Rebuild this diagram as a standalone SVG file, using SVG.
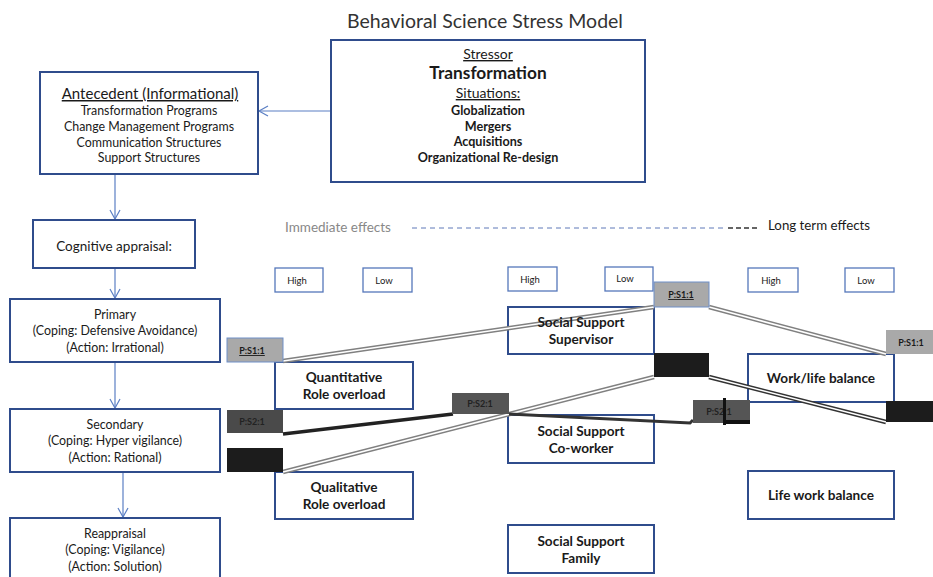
<svg xmlns="http://www.w3.org/2000/svg" width="933" height="577" viewBox="0 0 933 577">
<defs>
<marker id="arr" markerWidth="12" markerHeight="12" refX="10" refY="6" orient="auto" markerUnits="userSpaceOnUse">
<path d="M1,1 L10,6 L1,11" fill="none" stroke="#5b7fc4" stroke-width="1.2"/>
</marker>
<style>
text{font-family:Lato,"Open Sans","Liberation Sans",sans-serif;fill:#1a1a1a;text-anchor:middle}
.box{fill:#fff;stroke:#2f4c8c;stroke-width:2}
.sm{fill:#fff;stroke:#5577bb;stroke-width:1.3}
.t11{font-size:12.4px}
.t12{font-size:13.5px}
.nb{font-size:13.6px;font-weight:bold}
.b{font-weight:bold}
.u{text-decoration:underline}
.arrow{stroke:#5b7fc4;stroke-width:1.2;fill:none}
.dl1{stroke:#808080;stroke-width:4.5;fill:none}
.dl2{stroke:#fff;stroke-width:1.6;fill:none}
.dk1{stroke:#333;stroke-width:4.5;fill:none}
.ps{font-size:9px;font-weight:bold}
.hl{font-size:9.5px}
</style>
</defs>
<rect width="933" height="577" fill="#fff"/>
<text x="485" y="28" font-size="19.5" style="fill:#333">Behavioral Science Stress Model</text>

<g id="connectors">
<line class="arrow" x1="331" y1="111" x2="259" y2="111" marker-end="url(#arr)"/>
<line class="arrow" x1="115" y1="174" x2="115" y2="219" marker-end="url(#arr)"/>
<line class="arrow" x1="115" y1="269" x2="115" y2="298" marker-end="url(#arr)"/>
<line class="arrow" x1="115" y1="362" x2="115" y2="408" marker-end="url(#arr)"/>
<line class="arrow" x1="123" y1="472" x2="123" y2="517" marker-end="url(#arr)"/>
<line x1="412" y1="228" x2="725" y2="228" stroke="#5f78b8" stroke-width="1" stroke-dasharray="5,4"/>
<line x1="728" y1="228" x2="758" y2="228" stroke="#333" stroke-width="1.6" stroke-dasharray="5,3"/>
</g>

<g id="stressor">
<rect class="box" x="331" y="40" width="314" height="142"/>
<text x="488" y="59" font-size="14" class="u">Stressor</text>
<text x="488" y="79" font-size="17.3" class="b">Transformation</text>
<text x="488" y="98" font-size="14" class="u">Situations:</text>
<text x="488" y="115" font-size="12.6" class="b">Globalization</text>
<text x="488" y="131" font-size="12.6" class="b">Mergers</text>
<text x="488" y="146" font-size="12.6" class="b">Acquisitions</text>
<text x="488" y="162" font-size="12.6" class="b">Organizational Re-design</text>
</g>

<g id="antecedent">
<rect class="box" x="40" y="72" width="218" height="102"/>
<text x="150" y="99" font-size="15" class="u">Antecedent (Informational)</text>
<text x="149" y="115" class="t11">Transformation Programs</text>
<text x="149" y="131" class="t11">Change Management Programs</text>
<text x="149" y="147" class="t11">Communication Structures</text>
<text x="149" y="162" class="t11">Support Structures</text>
</g>

<g id="cognitive">
<rect class="box" x="33" y="220" width="162" height="48"/>
<text x="114" y="251" class="t12">Cognitive appraisal:</text>
</g>

<g id="primary">
<rect class="box" x="10" y="299" width="210" height="63"/>
<text x="115" y="319" class="t11">Primary</text>
<text x="115" y="335" class="t11">(Coping: Defensive Avoidance)</text>
<text x="115" y="352" class="t11">(Action: Irrational)</text>
</g>

<g id="secondary">
<rect class="box" x="10" y="409" width="210" height="63"/>
<text x="115" y="429" class="t11">Secondary</text>
<text x="115" y="445" class="t11">(Coping: Hyper vigilance)</text>
<text x="115" y="462" class="t11">(Action: Rational)</text>
</g>

<g id="reappraisal">
<rect class="box" x="10" y="518" width="210" height="70"/>
<text x="115" y="538" class="t11">Reappraisal</text>
<text x="115" y="554" class="t11">(Coping: Vigilance)</text>
<text x="115" y="571" class="t11">(Action: Solution)</text>
</g>

<g id="legend">
<text x="285" y="232" font-size="13.5" style="text-anchor:start;fill:#888">Immediate effects</text>
<text x="768" y="230" font-size="13.3" style="text-anchor:start">Long term effects</text>
</g>

<g id="high1"><rect class="sm" x="275" y="268" width="48" height="24"/><text x="297" y="284" class="hl">High</text></g>
<g id="low1"><rect class="sm" x="363" y="268" width="49" height="24"/><text x="384" y="284" class="hl">Low</text></g>
<g id="high2"><rect class="sm" x="508" y="267" width="49" height="24"/><text x="530" y="283" class="hl">High</text></g>
<g id="low2"><rect class="sm" x="605" y="267" width="48" height="24"/><text x="625" y="282" class="hl">Low</text></g>
<g id="high3"><rect class="sm" x="748" y="268" width="50" height="24"/><text x="771" y="284" class="hl">High</text></g>
<g id="low3"><rect class="sm" x="845" y="268" width="49" height="24"/><text x="866" y="284" class="hl">Low</text></g>

<g id="quantitative">
<rect class="box" x="275" y="362" width="138" height="47"/>
<text x="344" y="382" class="nb">Quantitative</text>
<text x="344" y="399" class="nb">Role overload</text>
</g>
<g id="qualitative">
<rect class="box" x="275" y="472" width="138" height="47"/>
<text x="344" y="492" class="nb">Qualitative</text>
<text x="344" y="509" class="nb">Role overload</text>
</g>

<g id="supervisor">
<rect class="box" x="508" y="307" width="146" height="47"/>
</g>
<g id="coworker">
<rect class="box" x="508" y="415" width="146" height="48"/>
<text x="581" y="436" class="nb">Social Support</text>
<text x="581" y="453" class="nb">Co-worker</text>
</g>
<g id="family">
<rect class="box" x="508" y="525" width="146" height="48"/>
<text x="581" y="546" class="nb">Social Support</text>
<text x="581" y="563" class="nb">Family</text>
</g>
<g id="worklife">
<rect class="box" x="748" y="354" width="146" height="48"/>
<text x="821" y="383" class="nb">Work/life balance</text>
</g>
<g id="lifework">
<rect class="box" x="748" y="471" width="146" height="48"/>
<text x="821" y="500" class="nb">Life work balance</text>
</g>

<g id="links">
<path class="dl1" d="M283,361 L654,307"/><path class="dl2" d="M283,361 L654,307"/>
<path class="dl1" d="M709,307 L886,354"/><path class="dl2" d="M709,307 L886,354"/>
<path class="dl1" d="M283,472 L654,377"/><path class="dl2" d="M283,472 L654,377"/>
<path class="dk1" d="M709,377 L886,422"/><path class="dl2" d="M709,377 L886,422"/>
<path d="M283,434 L453,414" stroke="#222" stroke-width="3.5" fill="none"/>
<path d="M509,414 L690,423 L693,420" stroke="#333" stroke-width="3" fill="none"/>
</g>

<g id="supervisor-label">
<text x="581" y="327" class="nb">Social Support</text>
<text x="581" y="344" class="nb">Supervisor</text>
</g>

<g id="ps11-left"><rect x="227" y="338" width="56" height="24" fill="#a9a9a9" stroke="#6f8fc8" stroke-width="1"/><text x="252" y="354" class="ps u">P:S1:1</text></g>
<g id="ps21-left"><rect x="227" y="410" width="56" height="23" fill="#4a4a4a"/><text x="252" y="425" class="ps" style="fill:#222">P:S2:1</text></g>
<g id="black-left"><rect x="227" y="448" width="56" height="24" fill="#1c1c1c"/></g>
<g id="ps21-mid"><rect x="452" y="393" width="57" height="21" fill="#555"/><text x="480" y="407" class="ps" style="fill:#222">P:S2:1</text></g>
<g id="ps11-top"><rect x="654" y="282" width="55" height="25" fill="#a9a9a9" stroke="#6f8fc8" stroke-width="1"/><text x="681" y="298" class="ps u">P:S1:1</text></g>
<g id="black-mid"><rect x="654" y="353" width="55" height="24" fill="#1c1c1c"/></g>
<g id="ps21-right"><rect x="693" y="400" width="57" height="23" fill="#555"/><text x="719" y="415" class="ps" style="fill:#222">P:S2:1</text><rect x="723" y="398" width="3" height="27" fill="#111"/><rect x="723" y="420" width="27" height="4" fill="#111"/></g>
<g id="ps11-right"><rect x="886" y="330" width="47" height="24" fill="#a9a9a9"/><text x="911" y="346" class="ps">P:S1:1</text></g>
<g id="black-right"><rect x="886" y="401" width="47" height="21" fill="#1c1c1c"/></g>
</svg>
